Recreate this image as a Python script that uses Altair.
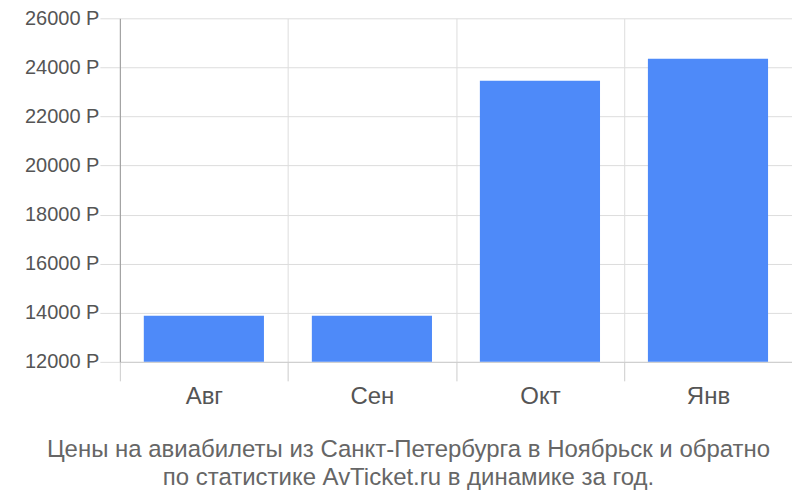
import altair as alt
import pandas as pd

months = ["Авг", "Сен", "Окт", "Янв"]
prices = [13880, 13880, 23455, 24350]
y_ticks = [12000, 14000, 16000, 18000, 20000, 22000, 24000, 26000]
title_lines = [
    "Цены на авиабилеты из Санкт-Петербурга в Ноябрьск и обратно",
    "по статистике AvTicket.ru в динамике за год.",
]

df = pd.DataFrame({"month": months, "price": prices})

FONT = "Liberation Sans"

chart = (
    alt.Chart(df)
    .mark_bar(color="#4e8af9", width=alt.RelativeBandSize(0.715))
    .encode(
        x=alt.X(
            "month:N",
            sort=months,
            title=None,
            scale=alt.Scale(paddingInner=0, paddingOuter=0),
            axis=alt.Axis(
                tickBand="extent",
                grid=True,
                gridColor="#dddddd",
                tickColor="#cccccc",
                tickSize=19,
                domainColor="#cccccc",
                labelAngle=0,
                labelFontSize=24,
                labelColor="#555555",
                labelFont=FONT,
                labelPadding=4,
            ),
        ),
        y=alt.Y(
            "price:Q",
            title=None,
            scale=alt.Scale(domain=[12000, 26000], zero=False, nice=False),
            axis=alt.Axis(
                values=y_ticks,
                labelExpr="datum.value + ' Р'",
                grid=True,
                gridColor="#dddddd",
                tickColor="#dddddd",
                tickSize=20,
                domainColor="#999999",
                labelFontSize=20,
                labelColor="#555555",
                labelFont=FONT,
                labelPadding=1,
            ),
        ),
        y2=alt.datum(12000),
    )
    .properties(
        width=673,
        height=344,
        autosize=alt.AutoSizeParams(type="none"),
        padding={"left": 112, "top": 10, "right": 0, "bottom": 134},
        title=alt.TitleParams(
            text=title_lines,
            orient="bottom",
            anchor="middle",
            frame="bounds",
            fontSize=24,
            fontWeight="normal",
            font=FONT,
            color="#666666",
            offset=29,
            lineHeight=28,
        ),
    )
    .configure_view(stroke=None)
)

chart.save("out.html", embed_options={"renderer": "svg", "actions": False})
